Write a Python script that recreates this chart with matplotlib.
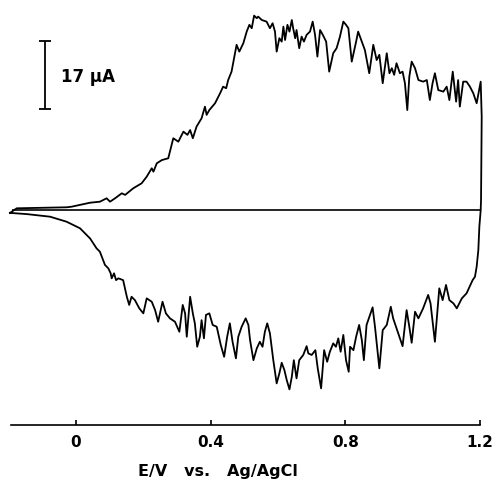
import numpy as np
import matplotlib
matplotlib.use("Agg")
from matplotlib import pyplot as plt

# anodic sweep (upper trace), E in V vs Ag/AgCl, current in uA
E_fwd = [-0.196, -0.176, -0.028, -0.013, 0.012, 0.042, 0.071, 0.091, 0.101, 0.116,
         0.136, 0.146, 0.170, 0.195, 0.210, 0.225, 0.230, 0.240, 0.255, 0.274,
         0.279, 0.289, 0.304, 0.319, 0.331, 0.339, 0.347, 0.358, 0.373, 0.383,
         0.388, 0.396, 0.413, 0.428, 0.437, 0.446, 0.452, 0.462, 0.477, 0.485,
         0.497, 0.507, 0.515, 0.522, 0.529, 0.537, 0.541, 0.552, 0.566, 0.576,
         0.584, 0.591, 0.596, 0.604, 0.611, 0.616, 0.621, 0.628, 0.634, 0.641,
         0.645, 0.651, 0.655, 0.663, 0.670, 0.677, 0.685, 0.695, 0.703, 0.710,
         0.717, 0.725, 0.733, 0.743, 0.752, 0.764, 0.774, 0.784, 0.794, 0.802,
         0.809, 0.819, 0.832, 0.838, 0.849, 0.858, 0.871, 0.883, 0.893, 0.901,
         0.911, 0.923, 0.931, 0.938, 0.945, 0.952, 0.962, 0.970, 0.977, 0.984,
         0.990, 0.997, 1.007, 1.017, 1.031, 1.042, 1.051, 1.059, 1.066, 1.076,
         1.091, 1.101, 1.109, 1.119, 1.129, 1.135, 1.140, 1.150, 1.160, 1.170,
         1.180, 1.190, 1.202, 1.205, 1.203, 1.202]
I_fwd = [-0.6, 0.55, 0.8, 0.95, 1.4, 1.95, 2.2, 3.05, 2.2, 3.05,
         4.3, 3.9, 5.55, 6.8, 8.45, 10.55, 9.7, 11.8, 12.6, 13.05,
         14.7, 18.05, 17.2, 19.7, 18.9, 20.1, 18.05, 20.95, 23.05, 25.95,
         23.9, 25.1, 26.8, 29.3, 30.95, 30.55, 32.6, 34.7, 41.4, 39.7,
         41.8, 44.7, 46.4, 45.55, 48.7, 48.05, 48.45, 47.6, 47.2, 45.55,
         46.8, 44.7, 39.7, 43.05, 42.2, 45.95, 42.6, 46.4, 44.7, 47.6,
         45.55, 43.05, 45.1, 40.55, 43.45, 42.2, 43.9, 44.7, 47.2, 43.9,
         38.45, 45.1, 43.9, 42.2, 34.7, 39.3, 40.55, 43.45, 47.2, 46.4,
         45.55, 37.2, 42.2, 44.7, 42.2, 40.1, 34.3, 41.4, 37.6, 38.9,
         31.8, 39.3, 34.3, 35.55, 33.9, 36.8, 34.3, 34.7, 31.8, 25.1,
         33.45, 37.2, 35.55, 32.6, 32.2, 32.6, 27.6, 31.8, 34.3, 30.1,
         29.7, 30.95, 27.6, 34.7, 27.2, 32.6, 25.95, 32.2, 32.2, 30.95,
         29.3, 26.8, 32.2, 23.45, 2.6, 0.1]

# cathodic sweep (lower trace), running back from 1.2 V
E_rev = [1.198, 1.195, 1.190, 1.185, 1.178, 1.160, 1.146, 1.131, 1.121, 1.109,
         1.099, 1.089, 1.079, 1.066, 1.053, 1.046, 1.031, 1.017, 1.007, 0.997,
         0.990, 0.982, 0.970, 0.954, 0.942, 0.935, 0.923, 0.911, 0.901, 0.888,
         0.881, 0.863, 0.855, 0.849, 0.841, 0.832, 0.824, 0.814, 0.810, 0.802,
         0.794, 0.786, 0.779, 0.772, 0.764, 0.754, 0.746, 0.737, 0.728, 0.718,
         0.711, 0.700, 0.690, 0.685, 0.675, 0.663, 0.655, 0.647, 0.641, 0.634,
         0.626, 0.619, 0.611, 0.604, 0.596, 0.586, 0.576, 0.568, 0.561, 0.554,
         0.546, 0.537, 0.527, 0.517, 0.512, 0.504, 0.492, 0.482, 0.475, 0.465,
         0.457, 0.449, 0.440, 0.430, 0.418, 0.406, 0.396, 0.386, 0.380, 0.373,
         0.368, 0.360, 0.353, 0.347, 0.339, 0.329, 0.324, 0.317, 0.307, 0.294,
         0.279, 0.267, 0.257, 0.244, 0.235, 0.225, 0.210, 0.200, 0.188, 0.175,
         0.165, 0.158, 0.151, 0.140, 0.126, 0.119, 0.113, 0.106, 0.103, 0.096,
         0.086, 0.071, 0.061, 0.042, 0.012, -0.028, -0.077, -0.146, -0.196]
I_rev = [-4.05, -9.9, -14.05, -16.55, -17.4, -20.7, -21.95, -24.45, -23.2, -22.4,
         -18.6, -22.4, -19.45, -32.8, -23.2, -21.1, -24.45, -26.95, -25.3, -33.05,
         -29.05, -24.9, -33.9, -29.9, -26.95, -24.05, -28.6, -29.9, -39.45, -29.05,
         -24.2, -28.6, -37.4, -32.4, -28.6, -31.55, -34.9, -34.05, -40.3, -37.4,
         -31.1, -35.3, -31.95, -34.05, -33.2, -35.3, -37.8, -34.9, -44.45, -39.45,
         -34.9, -36.1, -35.7, -33.9, -36.1, -37.4, -41.95, -37.4, -41.55, -44.7,
         -42.4, -39.9, -38.05, -40.7, -43.2, -37.4, -30.7, -28.2, -30.3, -34.05,
         -32.8, -34.45, -37.4, -32.4, -28.6, -26.95, -29.05, -31.55, -36.95, -32.8,
         -28.2, -31.55, -36.55, -33.6, -29.05, -28.6, -25.7, -26.1, -31.95, -27.4,
         -31.55, -34.05, -28.2, -25.7, -21.55, -31.55, -25.7, -23.6, -30.3, -27.8,
         -26.95, -25.7, -22.8, -27.8, -24.9, -22.8, -21.95, -25.7, -24.45, -22.4,
         -21.55, -23.6, -21.55, -17.4, -16.95, -17.4, -15.7, -16.95, -15.7, -14.45,
         -13.6, -10.3, -9.45, -7.0, -4.45, -2.8, -1.55, -0.9, -0.6]

ticks = [0, 0.4, 0.8, 1.2]
tick_labels = ["0", "0.4", "0.8", "1.2"]
scale_uA = 17
scale_bottom = 25.3

fig = plt.figure(figsize=(4.94, 4.84), dpi=100)
ax = fig.add_axes([0.0223, 0.1219, 0.9494, 0.8781])

E = np.concatenate([E_fwd, E_rev])
I = np.concatenate([I_fwd, I_rev])
ax.plot(E, I, color="black", lw=1.3, clip_on=False)
ax.hlines(0, E_fwd[0] + 0.005, E_fwd[-1], color="black", lw=1.2)

# current scale bar
ax.errorbar([-0.092], [scale_bottom + scale_uA / 2], yerr=[scale_uA / 2],
            color="black", lw=1.3, capsize=4.3, capthick=1.3)
ax.text(-0.045, scale_bottom + scale_uA / 2 - 0.5, "17 µA", fontsize=12,
        fontweight="bold", ha="left", va="center")

ax.set_xlim(-0.193, 1.2)
ax.set_ylim(-53.6, 52.6)
for s in ["left", "right", "top"]:
    ax.spines[s].set_visible(False)
ax.spines["bottom"].set_linewidth(1.2)
ax.set_yticks([])
ax.set_xticks(ticks)
ax.set_xticklabels(tick_labels, fontsize=11, fontweight="bold")
ax.tick_params(axis="x", direction="in", length=3.5, width=1.2, pad=7)
ax.set_xlabel("E/V   vs.   Ag/AgCl", fontsize=11.5, fontweight="bold")
ax.xaxis.set_label_coords(0.441, -0.11)
ax.xaxis.label.set_va("center")

fig.savefig("out.png", dpi=100)
